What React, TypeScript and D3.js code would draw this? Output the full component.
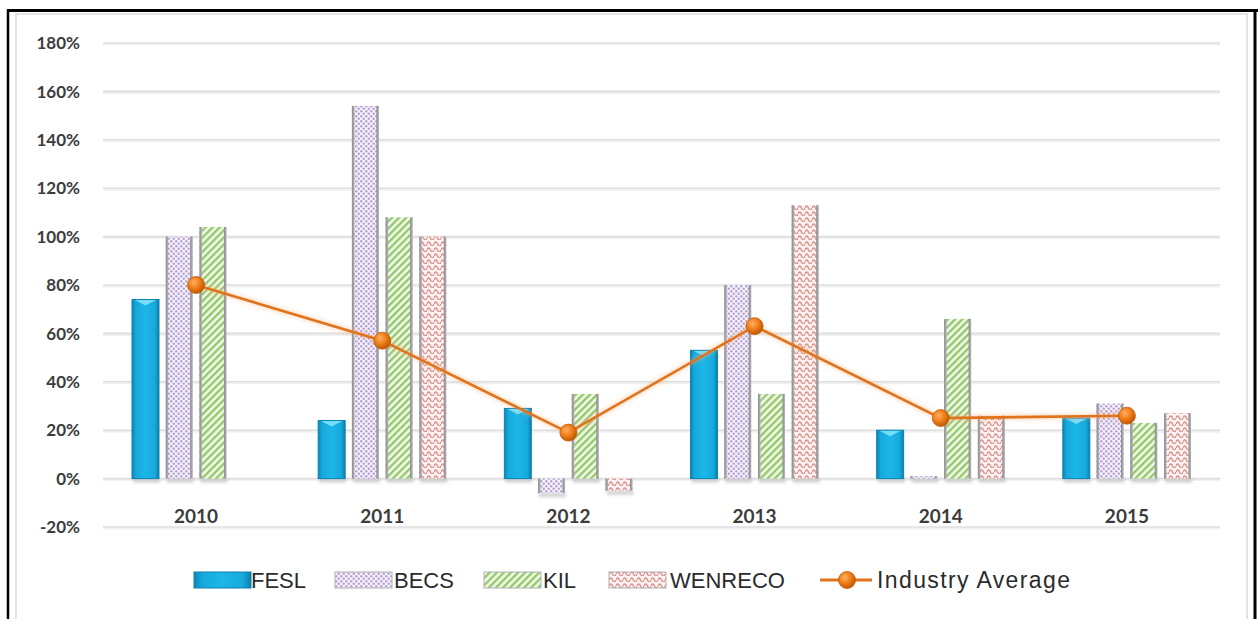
import React from "react";
import * as d3 from "d3";

// Ratio by year and company (percent)
const years = ["2010", "2011", "2012", "2013", "2014", "2015"];
const seriesNames = ["FESL", "BECS", "KIL", "WENRECO"];
const fesl = [74, 24, 29, 53, 20, 25];
const becs = [100, 154, -6, 80, 1, 31];
const kil = [104, 108, 35, 35, 66, 23];
const wenreco: (number | null)[] = [null, 100, -5, 113, 26, 27];
const industryAverage = [80, 57, 19, 63, 25, 26];
const yTicks = [-20, 0, 20, 40, 60, 80, 100, 120, 140, 160, 180];

const W = 1258;
const H = 619;
const plot = { left: 103, right: 1220, top: 43, bottom: 527 };

const seriesValues = [fesl, becs, kil, wenreco];
const fills = ["url(#feslGrad)", "url(#becsPat)", "url(#kilPat)", "url(#wenPat)"];

export default function App() {
  const x = d3.scaleBand<string>().domain(years).range([plot.left, plot.right]).padding(0);
  const inner = d3
    .scaleBand<string>()
    .domain(seriesNames)
    .range([0, x.bandwidth()])
    .paddingInner(0.2)
    .paddingOuter(0.86);
  const y = d3.scaleLinear().domain([-20, 180]).range([plot.bottom, plot.top]);
  const zero = y(0);

  const bars: { key: string; s: number; x: number; y0: number; y1: number; w: number; v: number }[] = [];
  seriesNames.forEach((name, s) => {
    years.forEach((yr, i) => {
      const v = seriesValues[s][i];
      if (v === null || v === undefined) return;
      const bx = (x(yr) as number) + (inner(name) as number);
      bars.push({
        key: name + yr,
        s,
        x: bx,
        w: inner.bandwidth(),
        y0: Math.min(y(v), zero),
        y1: Math.max(y(v), zero),
        v,
      });
    });
  });

  const line = d3
    .line<number>()
    .x((_, i) => (x(years[i]) as number) + x.bandwidth() / 2)
    .y((d) => y(d));

  const tickFont = "Lato, 'Open Sans', sans-serif";
  const legendFont = "'Liberation Sans', Arial, sans-serif";

  // legend layout
  const legendY = 580;
  const legendItems = [
    { label: "FESL", sx: 194, tx: 251 },
    { label: "BECS", sx: 335, tx: 394 },
    { label: "KIL", sx: 484, tx: 543 },
    { label: "WENRECO", sx: 609, tx: 670 },
  ];

  return (
    <div style={{ position: "absolute", left: 0, top: 0 }}>
      <svg width={W} height={H} viewBox={`0 0 ${W} ${H}`} style={{ display: "block", background: "#fff" }}>
        <defs>
          <linearGradient id="feslGrad" x1="0" x2="1" y1="0" y2="0">
            <stop offset="0" stopColor="#0b86b8" />
            <stop offset="0.15" stopColor="#17a9dc" />
            <stop offset="0.5" stopColor="#1cb6e8" />
            <stop offset="0.85" stopColor="#17a9dc" />
            <stop offset="1" stopColor="#0a7fae" />
          </linearGradient>
          <pattern id="becsPat" patternUnits="userSpaceOnUse" width="5" height="5">
            <rect width="5" height="5" fill="#f6f1fb" />
            <circle cx="1.25" cy="1.25" r="1.2" fill="#b4a2d2" />
            <circle cx="3.75" cy="3.75" r="1.2" fill="#b4a2d2" />
          </pattern>
          <pattern
            id="kilPat"
            patternUnits="userSpaceOnUse"
            width="5"
            height="5"
            patternTransform="rotate(45)"
          >
            <rect width="5" height="5" fill="#f1f8e8" />
            <rect width="2.3" height="5" fill="#93c86a" />
          </pattern>
          <pattern id="wenPat" patternUnits="userSpaceOnUse" width="7" height="6">
            <rect width="7" height="6" fill="#fcf1f0" />
            <path d="M0,4 Q1.75,0 3.5,4 Q5.25,8 7,4" fill="none" stroke="#d9948e" strokeWidth="1.4" />
          </pattern>
          <radialGradient id="dotGrad" cx="0.38" cy="0.35" r="0.7">
            <stop offset="0" stopColor="#ffb060" />
            <stop offset="0.5" stopColor="#ef7d1a" />
            <stop offset="1" stopColor="#b85200" />
          </radialGradient>
          <linearGradient id="edgeGrad" x1="0" x2="1">
            <stop offset="0" stopColor="#8c8c90" />
            <stop offset="1" stopColor="#b4b4b8" />
          </linearGradient>
          <filter id="soft" x="-20%" y="-50%" width="140%" height="200%">
            <feGaussianBlur stdDeviation="1.6" />
          </filter>
          <filter id="lineShadow" x="-5%" y="-20%" width="110%" height="140%">
            <feGaussianBlur stdDeviation="2" />
          </filter>
        </defs>

        {/* frame */}
        <rect x={16} y={14} width={1231} height={620} fill="#fff" stroke="#dcdcdc" strokeWidth={1.5} />
        <line x1={8} x2={1258} y1={10.5} y2={10.5} stroke="#000" strokeWidth={3} />
        <line x1={8} x2={8} y1={9} y2={H} stroke="#000" strokeWidth={2.5} />
        <line x1={1255} x2={1255} y1={9} y2={H} stroke="#000" strokeWidth={3} />

        {/* gridlines */}
        {yTicks.map((t) => (
          <g key={t}>
            <line x1={plot.left} x2={plot.right} y1={y(t) + 1.5} y2={y(t) + 1.5} stroke="#f1f1f1" strokeWidth={2} />
            <line x1={plot.left} x2={plot.right} y1={y(t)} y2={y(t)} stroke="#dedede" strokeWidth={1.6} />
          </g>
        ))}

        {/* y tick labels */}
        {yTicks.map((t) => (
          <text
            key={"l" + t}
            x={80}
            y={y(t)}
            dy="0.36em"
            textAnchor="end"
            fontFamily={tickFont}
            fontWeight={700}
            fontSize={17}
            fill="#3c3c3c"
          >
            {t + "%"}
          </text>
        ))}

        {/* x labels */}
        {years.map((yr) => (
          <text
            key={"x" + yr}
            x={(x(yr) as number) + x.bandwidth() / 2}
            y={516}
            dy="0.36em"
            textAnchor="middle"
            fontFamily={tickFont}
            fontWeight={700}
            fontSize={19}
            fill="#3c3c3c"
          >
            {yr}
          </text>
        ))}

        {/* bar shadows */}
        {bars.map((b) => (
          <rect
            key={"sh" + b.key}
            x={b.x + 1}
            y={b.y1}
            width={b.w}
            height={4}
            fill="#9a9a9a"
            opacity={0.45}
            filter="url(#soft)"
          />
        ))}

        {/* bars */}
        {bars.map((b) =>
          b.s === 0 ? (
            <g key={b.key}>
              <rect x={b.x} y={b.y0} width={b.w} height={b.y1 - b.y0} fill={fills[0]} />
              <path
                d={`M${b.x + 2},${b.y0} L${b.x + b.w - 2},${b.y0} L${b.x + b.w / 2},${b.y0 + 6} Z`}
                fill="#7fe2fb"
                opacity={0.9}
              />
              <rect x={b.x} y={b.y0} width={b.w} height={b.y1 - b.y0} fill="none" stroke="#0a82b2" strokeWidth={1} />
            </g>
          ) : (
            <g key={b.key}>
              <rect x={b.x} y={b.y0} width={b.w} height={b.y1 - b.y0} fill={fills[b.s]} />
              <rect x={b.x} y={b.y0} width={2.5} height={b.y1 - b.y0} fill="url(#edgeGrad)" />
              <rect x={b.x + b.w - 2.5} y={b.y0} width={2.5} height={b.y1 - b.y0} fill="url(#edgeGrad)" />
            </g>
          )
        )}

        {/* industry average */}
        <path
          d={line(industryAverage) || ""}
          fill="none"
          stroke="#f7b27a"
          strokeWidth={5}
          opacity={0.45}
          filter="url(#lineShadow)"
        />
        <path d={line(industryAverage) || ""} fill="none" stroke="#e0731c" strokeWidth={2.6} />
        {industryAverage.map((v, i) => (
          <circle
            key={"d" + i}
            cx={(x(years[i]) as number) + x.bandwidth() / 2}
            cy={y(v)}
            r={8.5}
            fill="url(#dotGrad)"
            stroke="#c25d06"
            strokeWidth={0.8}
          />
        ))}

        {/* legend */}
        {legendItems.map((it, s) => (
          <g key={"lg" + it.label}>
            <rect x={it.sx} y={legendY - 8} width={57} height={16} fill={fills[s]} />
            {s === 0 ? (
              <rect x={it.sx} y={legendY - 8} width={57} height={16} fill="none" stroke="#0a82b2" strokeWidth={1} />
            ) : (
              <rect x={it.sx} y={legendY - 8} width={57} height={16} fill="none" stroke="#b0b0b4" strokeWidth={1} />
            )}
            <text
              x={it.tx}
              y={legendY}
              dy="0.36em"
              fontFamily={legendFont}
              fontSize={22}
              fill="#2b2b2b"
            >
              {it.label}
            </text>
          </g>
        ))}
        <line x1={820} x2={872} y1={legendY} y2={legendY} stroke="#e0731c" strokeWidth={3} />
        <circle cx={847} cy={legendY} r={8.5} fill="url(#dotGrad)" stroke="#c25d06" strokeWidth={0.8} />
        <text
          x={877}
          y={legendY}
          dy="0.36em"
          fontFamily={legendFont}
          fontSize={23}
          textLength={193}
          lengthAdjust="spacing"
          fill="#2b2b2b"
        >
          Industry Average
        </text>
      </svg>
    </div>
  );
}
